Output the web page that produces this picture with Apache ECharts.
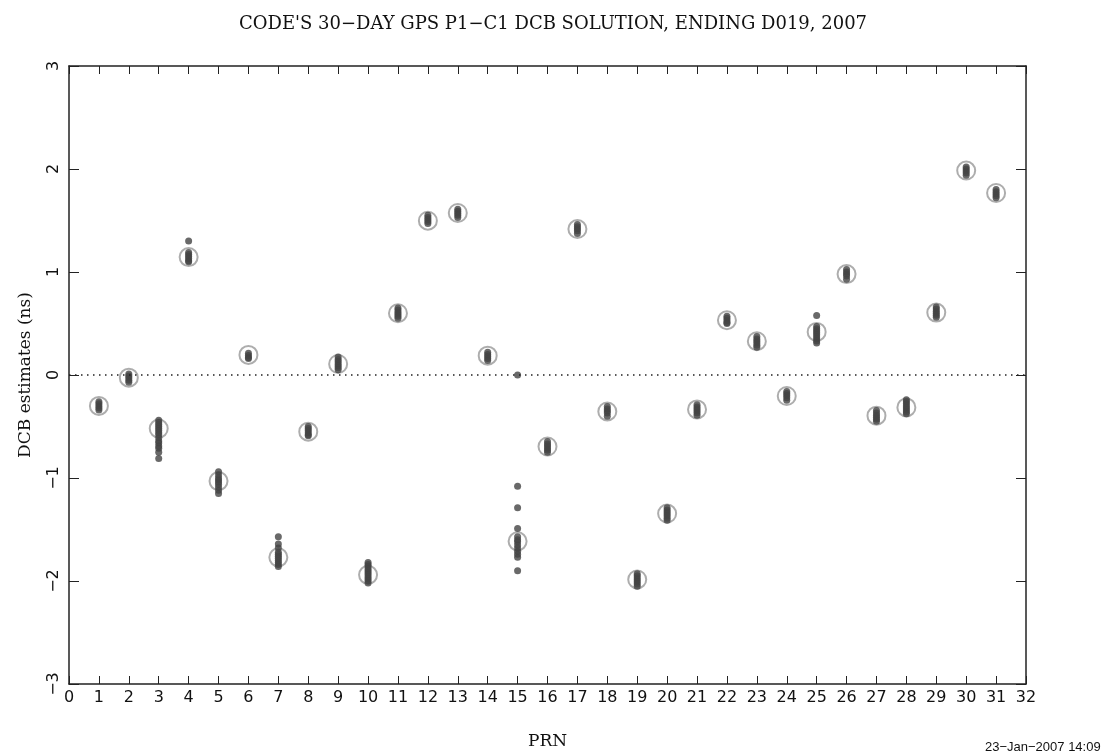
<!DOCTYPE html>
<html>
<head>
<meta charset="utf-8">
<script src="https://cdn.jsdelivr.net/npm/echarts@6/dist/echarts.min.js"></script>
<style>
  html, body { margin: 0; padding: 0; background: #fff; }
  #chart { width: 1106px; height: 755px; }
</style>
</head>
<body>
<div id="chart"></div>
<script>
// Satellite numbers (PRN) on the x axis
const prnList = [1,2,3,4,5,6,7,8,9,10,11,12,13,14,15,16,17,18,19,20,21,22,23,24,25,26,27,28,29,30,31];

// 30-day combined P1-C1 DCB per satellite (ns), drawn as open circles
const meanDcb = [-0.30,-0.026,-0.52,1.145,-1.03,0.195,-1.77,-0.55,0.107,-1.94,
                 0.60,1.498,1.573,0.188,-1.615,-0.694,1.417,-0.354,-1.985,-1.345,
                 -0.334,0.532,0.328,-0.204,0.418,0.98,-0.395,-0.315,0.606,1.985,1.767];

// Daily DCB estimates per satellite (ns), drawn as filled dots
const dailyG01 = [-0.26,-0.28,-0.30,-0.32,-0.34];
const dailyG02 = [0.01,-0.01,-0.03,-0.05,-0.07];
const dailyG03 = [-0.44,-0.46,-0.48,-0.50,-0.52,-0.54,-0.56,-0.58,-0.61,-0.64,-0.66,-0.69,-0.71,-0.75,-0.81];
const dailyG04 = [1.30,1.19,1.17,1.15,1.13,1.11,1.10];
const dailyG05 = [-0.94,-0.97,-1.00,-1.02,-1.04,-1.06,-1.09,-1.12,-1.15];
const dailyG06 = [0.21,0.19,0.17,0.16];
const dailyG07 = [-1.57,-1.64,-1.68,-1.72,-1.74,-1.76,-1.78,-1.80,-1.82,-1.84,-1.86];
const dailyG08 = [-0.50,-0.52,-0.54,-0.56,-0.58,-0.59];
const dailyG09 = [0.175,0.15,0.13,0.11,0.09,0.07,0.05];
const dailyG10 = [-1.82,-1.84,-1.86,-1.88,-1.90,-1.92,-1.94,-1.96,-1.98,-2.00,-2.02];
const dailyG11 = [0.65,0.63,0.61,0.59,0.57,0.55];
const dailyG12 = [1.55,1.53,1.51,1.49,1.47];
const dailyG13 = [1.61,1.59,1.57,1.55,1.53];
const dailyG14 = [0.22,0.20,0.18,0.16,0.14];
const dailyG15 = [0.00,-1.08,-1.29,-1.49,-1.57,-1.60,-1.62,-1.65,-1.68,-1.71,-1.74,-1.77,-1.90];
const dailyG16 = [-0.645,-0.67,-0.69,-0.71,-0.73,-0.75];
const dailyG17 = [1.46,1.44,1.42,1.40,1.375];
const dailyG18 = [-0.305,-0.33,-0.35,-0.37,-0.40];
const dailyG19 = [-1.93,-1.95,-1.97,-1.99,-2.01,-2.03,-2.05];
const dailyG20 = [-1.29,-1.31,-1.33,-1.35,-1.37,-1.39,-1.41];
const dailyG21 = [-0.29,-0.31,-0.33,-0.35,-0.37,-0.39];
const dailyG22 = [0.57,0.55,0.53,0.51,0.50];
const dailyG23 = [0.375,0.35,0.33,0.31,0.29,0.27];
const dailyG24 = [-0.16,-0.18,-0.20,-0.22,-0.245];
const dailyG25 = [0.577,0.47,0.45,0.43,0.41,0.39,0.37,0.35,0.33,0.31];
const dailyG26 = [1.025,1.00,0.98,0.96,0.93];
const dailyG27 = [-0.345,-0.37,-0.39,-0.41,-0.43,-0.45];
const dailyG28 = [-0.24,-0.26,-0.28,-0.30,-0.32,-0.34,-0.36,-0.375];
const dailyG29 = [0.66,0.64,0.62,0.60,0.58,0.56];
const dailyG30 = [2.02,2.00,1.98,1.96,1.94];
const dailyG31 = [1.80,1.78,1.76,1.74,1.72];

const dailyDcb = [dailyG01,dailyG02,dailyG03,dailyG04,dailyG05,dailyG06,dailyG07,dailyG08,
                  dailyG09,dailyG10,dailyG11,dailyG12,dailyG13,dailyG14,dailyG15,dailyG16,
                  dailyG17,dailyG18,dailyG19,dailyG20,dailyG21,dailyG22,dailyG23,dailyG24,
                  dailyG25,dailyG26,dailyG27,dailyG28,dailyG29,dailyG30,dailyG31];

const titleText = "CODE'S 30\u2212DAY GPS P1\u2212C1 DCB SOLUTION, ENDING D019, 2007";
const stampText = "23\u2212Jan\u22122007 14:09";

const dotPoints = [];
prnList.forEach((prn, i) => dailyDcb[i].forEach(v => dotPoints.push([prn, v])));
const circlePoints = prnList.map((prn, i) => [prn, meanDcb[i]]);

const frame = '#222';
const serif = '"DejaVu Serif", "Liberation Serif", serif';
const sans = '"DejaVu Sans", "Liberation Sans", sans-serif';

const chart = echarts.init(document.getElementById('chart'), null, { renderer: 'canvas' });
chart.setOption({
  backgroundColor: '#fff',
  animation: false,
  title: {
    text: titleText,
    left: 'center',
    top: 10,
    textStyle: { fontFamily: serif, fontSize: 18, fontWeight: 'normal', color: '#111' }
  },
  grid: { left: 69, right: 80, top: 66, bottom: 71, containLabel: false },
  xAxis: [
    {
      type: 'value', min: 0, max: 32, interval: 1, position: 'bottom',
      name: 'PRN', nameLocation: 'middle', nameGap: 49,
      nameTextStyle: { fontFamily: serif, fontSize: 17, color: '#111' },
      axisLine: { show: true, onZero: false, lineStyle: { color: frame, width: 1.5 } },
      axisTick: { show: true, inside: true, length: 8, lineStyle: { color: frame, width: 1 } },
      axisLabel: { margin: 6, fontFamily: sans, fontSize: 16, color: '#111' },
      splitLine: { show: false }
    },
    {
      type: 'value', min: 0, max: 32, interval: 1, position: 'top',
      axisLine: { show: true, onZero: false, lineStyle: { color: frame, width: 1.5 } },
      axisTick: { show: true, inside: true, length: 8, lineStyle: { color: frame, width: 1 } },
      axisLabel: { show: false },
      splitLine: { show: false }
    }
  ],
  yAxis: [
    {
      type: 'value', min: -3, max: 3, interval: 1, position: 'left',
      name: 'DCB estimates (ns)', nameLocation: 'middle', nameGap: 35, nameRotate: 90,
      nameTextStyle: { fontFamily: serif, fontSize: 17, color: '#111' },
      axisLine: { show: true, onZero: false, lineStyle: { color: frame, width: 1.5 } },
      axisTick: { show: true, inside: true, length: 10, lineStyle: { color: frame, width: 1 } },
      axisLabel: {
        rotate: 90, margin: 7, fontFamily: sans, fontSize: 16, color: '#111',
        formatter: v => (v < 0 ? '\u2212' + Math.abs(v) : String(v))
      },
      splitLine: { show: false }
    },
    {
      type: 'value', min: -3, max: 3, interval: 1, position: 'right',
      axisLine: { show: true, onZero: false, lineStyle: { color: frame, width: 1.5 } },
      axisTick: { show: true, inside: true, length: 10, lineStyle: { color: frame, width: 1 } },
      axisLabel: { show: false },
      splitLine: { show: false }
    }
  ],
  series: [
    {
      name: 'zero',
      type: 'line',
      data: [],
      silent: true,
      markLine: {
        silent: true,
        symbol: 'none',
        label: { show: false },
        lineStyle: { color: '#222', width: 1.5, type: [1.5, 4.5] },
        data: [{ yAxis: 0 }]
      }
    },
    {
      name: 'mean',
      type: 'scatter',
      data: circlePoints,
      symbol: 'circle',
      symbolSize: 18,
      itemStyle: { color: 'rgba(255,255,255,0)', borderColor: '#999', borderWidth: 2 },
      z: 2
    },
    {
      name: 'daily',
      type: 'scatter',
      data: dotPoints,
      symbol: 'circle',
      symbolSize: 7,
      itemStyle: { color: '#444' },
      z: 3
    }
  ],
  graphic: [
    {
      type: 'text',
      left: 985,
      top: 741,
      style: { text: stampText, font: '13px "Liberation Sans", sans-serif', fill: '#111' }
    }
  ]
});
</script>
</body>
</html>
